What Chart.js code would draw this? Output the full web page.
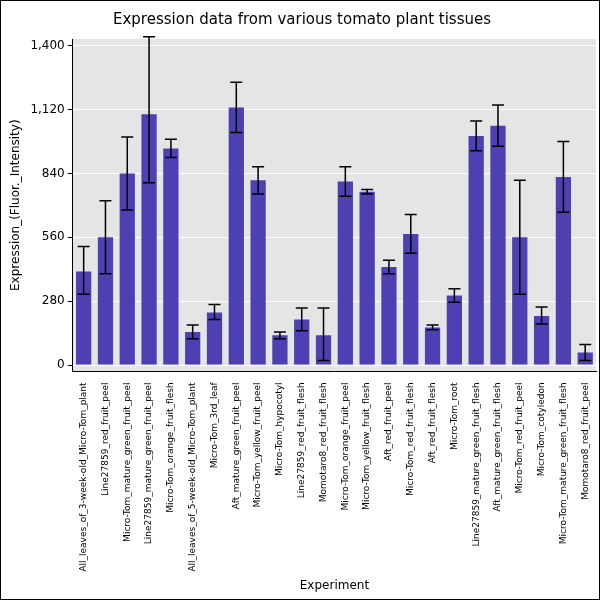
<!DOCTYPE html>
<html><head>
<script src="https://cdn.jsdelivr.net/npm/chart.js@4"></script>
<style>
body{margin:0;background:#fff}
#wrap{width:598px;height:598px;border:1px solid #000}
</style>
</head><body>
<div id="wrap"><canvas id="myChart" width="598" height="598"></canvas></div>
<script>
var labels = ["All_leaves_of_3-week-old_Micro-Tom_plant","Line27859_red_fruit_peel","Micro-Tom_mature_green_fruit_peel","Line27859_mature_green_fruit_peel","Micro-Tom_orange_fruit_flesh","All_leaves_of_5-week-old_Micro-Tom_plant","Micro-Tom_3rd_leaf","Aft_mature_green_fruit_peel","Micro-Tom_yellow_fruit_peel","Micro-Tom_hypocotyl","Line27859_red_fruit_flesh","Momotaro8_red_fruit_flesh","Micro-Tom_orange_fruit_peel","Micro-Tom_yellow_fruit_flesh","Aft_red_fruit_peel","Micro-Tom_red_fruit_flesh","Aft_red_fruit_flesh","Micro-Tom_root","Line27859_mature_green_fruit_flesh","Aft_mature_green_fruit_flesh","Micro-Tom_red_fruit_peel","Micro-Tom_cotyledon","Micro-Tom_mature_green_fruit_flesh","Momotaro8_red_fruit_peel"]
var values = [410,560,840,1100,950,145,230,1130,810,130,200,130,805,760,430,575,165,305,1005,1050,560,215,825,55]
var errHigh = [520,720,1000,1440,990,175,265,1240,870,145,250,250,870,770,460,660,175,335,1070,1140,810,255,980,90]
var errLow = [310,400,680,800,910,115,200,1020,750,115,150,20,740,750,400,490,155,275,940,960,310,180,670,20]
var yTicks = [0,280,560,840,1120,1400]

var errorBars = {
    id: 'errorBars',
    afterDatasetsDraw: function (chart) {
        var ctx = chart.ctx
        var y = chart.scales.y
        var meta = chart.getDatasetMeta(0)
        ctx.save()
        ctx.strokeStyle = 'black'
        ctx.lineWidth = 1.5
        meta.data.forEach(function (bar, i) {
            var x = bar.x
            var yh = y.getPixelForValue(errHigh[i])
            var yl = y.getPixelForValue(errLow[i])
            ctx.beginPath()
            ctx.moveTo(x, yh); ctx.lineTo(x, yl)
            ctx.moveTo(x - 6, yh); ctx.lineTo(x + 6, yh)
            ctx.moveTo(x - 6, yl); ctx.lineTo(x + 6, yl)
            ctx.stroke()
        })
        ctx.restore()
    }
}
var bgPlugin = {
    id: 'bg',
    beforeDraw: function (chart) {
        var a = chart.chartArea, ctx = chart.ctx
        ctx.save()
        ctx.fillStyle = '#e5e5e5'
        ctx.fillRect(a.left, a.top, a.right - a.left, a.bottom - a.top)
        ctx.restore()
    }
}

var ctx = document.getElementById('myChart').getContext('2d')
var myChart = new Chart(ctx, {
    type: 'bar',
    data: {
        labels: labels,
        datasets: [{
            data: values,
            backgroundColor: '#4c40b3',
            barPercentage: 0.7,
            categoryPercentage: 1.0
        }]
    },
    options: {
        responsive: false,
        animation: false,
        layout: { padding: { left: 4, right: 0, top: 0, bottom: 2 } },
        plugins: {
            legend: { display: false },
            tooltip: { enabled: false },
            title: { display: true, text: 'Expression data from various tomato plant tissues', color: '#000', font: { family: 'DejaVu Sans', size: 15, weight: 'normal' }, padding: { top: 10, bottom: 10 } }
        },
        scales: {
            x: {
                grid: { display: false },
                border: { color: '#000' },
                ticks: { color: '#000', font: { family: 'DejaVu Sans', size: 9 }, minRotation: 90, maxRotation: 90, autoSkip: false },
                title: { display: true, text: 'Experiment', color: '#000', font: { family: 'DejaVu Sans', size: 12 } }
            },
            y: {
                min: -28, max: 1430,
                afterBuildTicks: function (axis) { axis.ticks = yTicks.map(function (v) { return { value: v } }) },
                grid: { color: '#ffffff', lineWidth: 1, tickColor: '#000', tickLength: 5 },
                border: { color: '#000' },
                ticks: { color: '#000', font: { family: 'DejaVu Sans', size: 12 } },
                title: { display: true, text: 'Expression_(Fluor._Intensity)', color: '#000', font: { family: 'DejaVu Sans', size: 12 } }
            }
        }
    },
    plugins: [bgPlugin, errorBars]
})
</script>
</body></html>
